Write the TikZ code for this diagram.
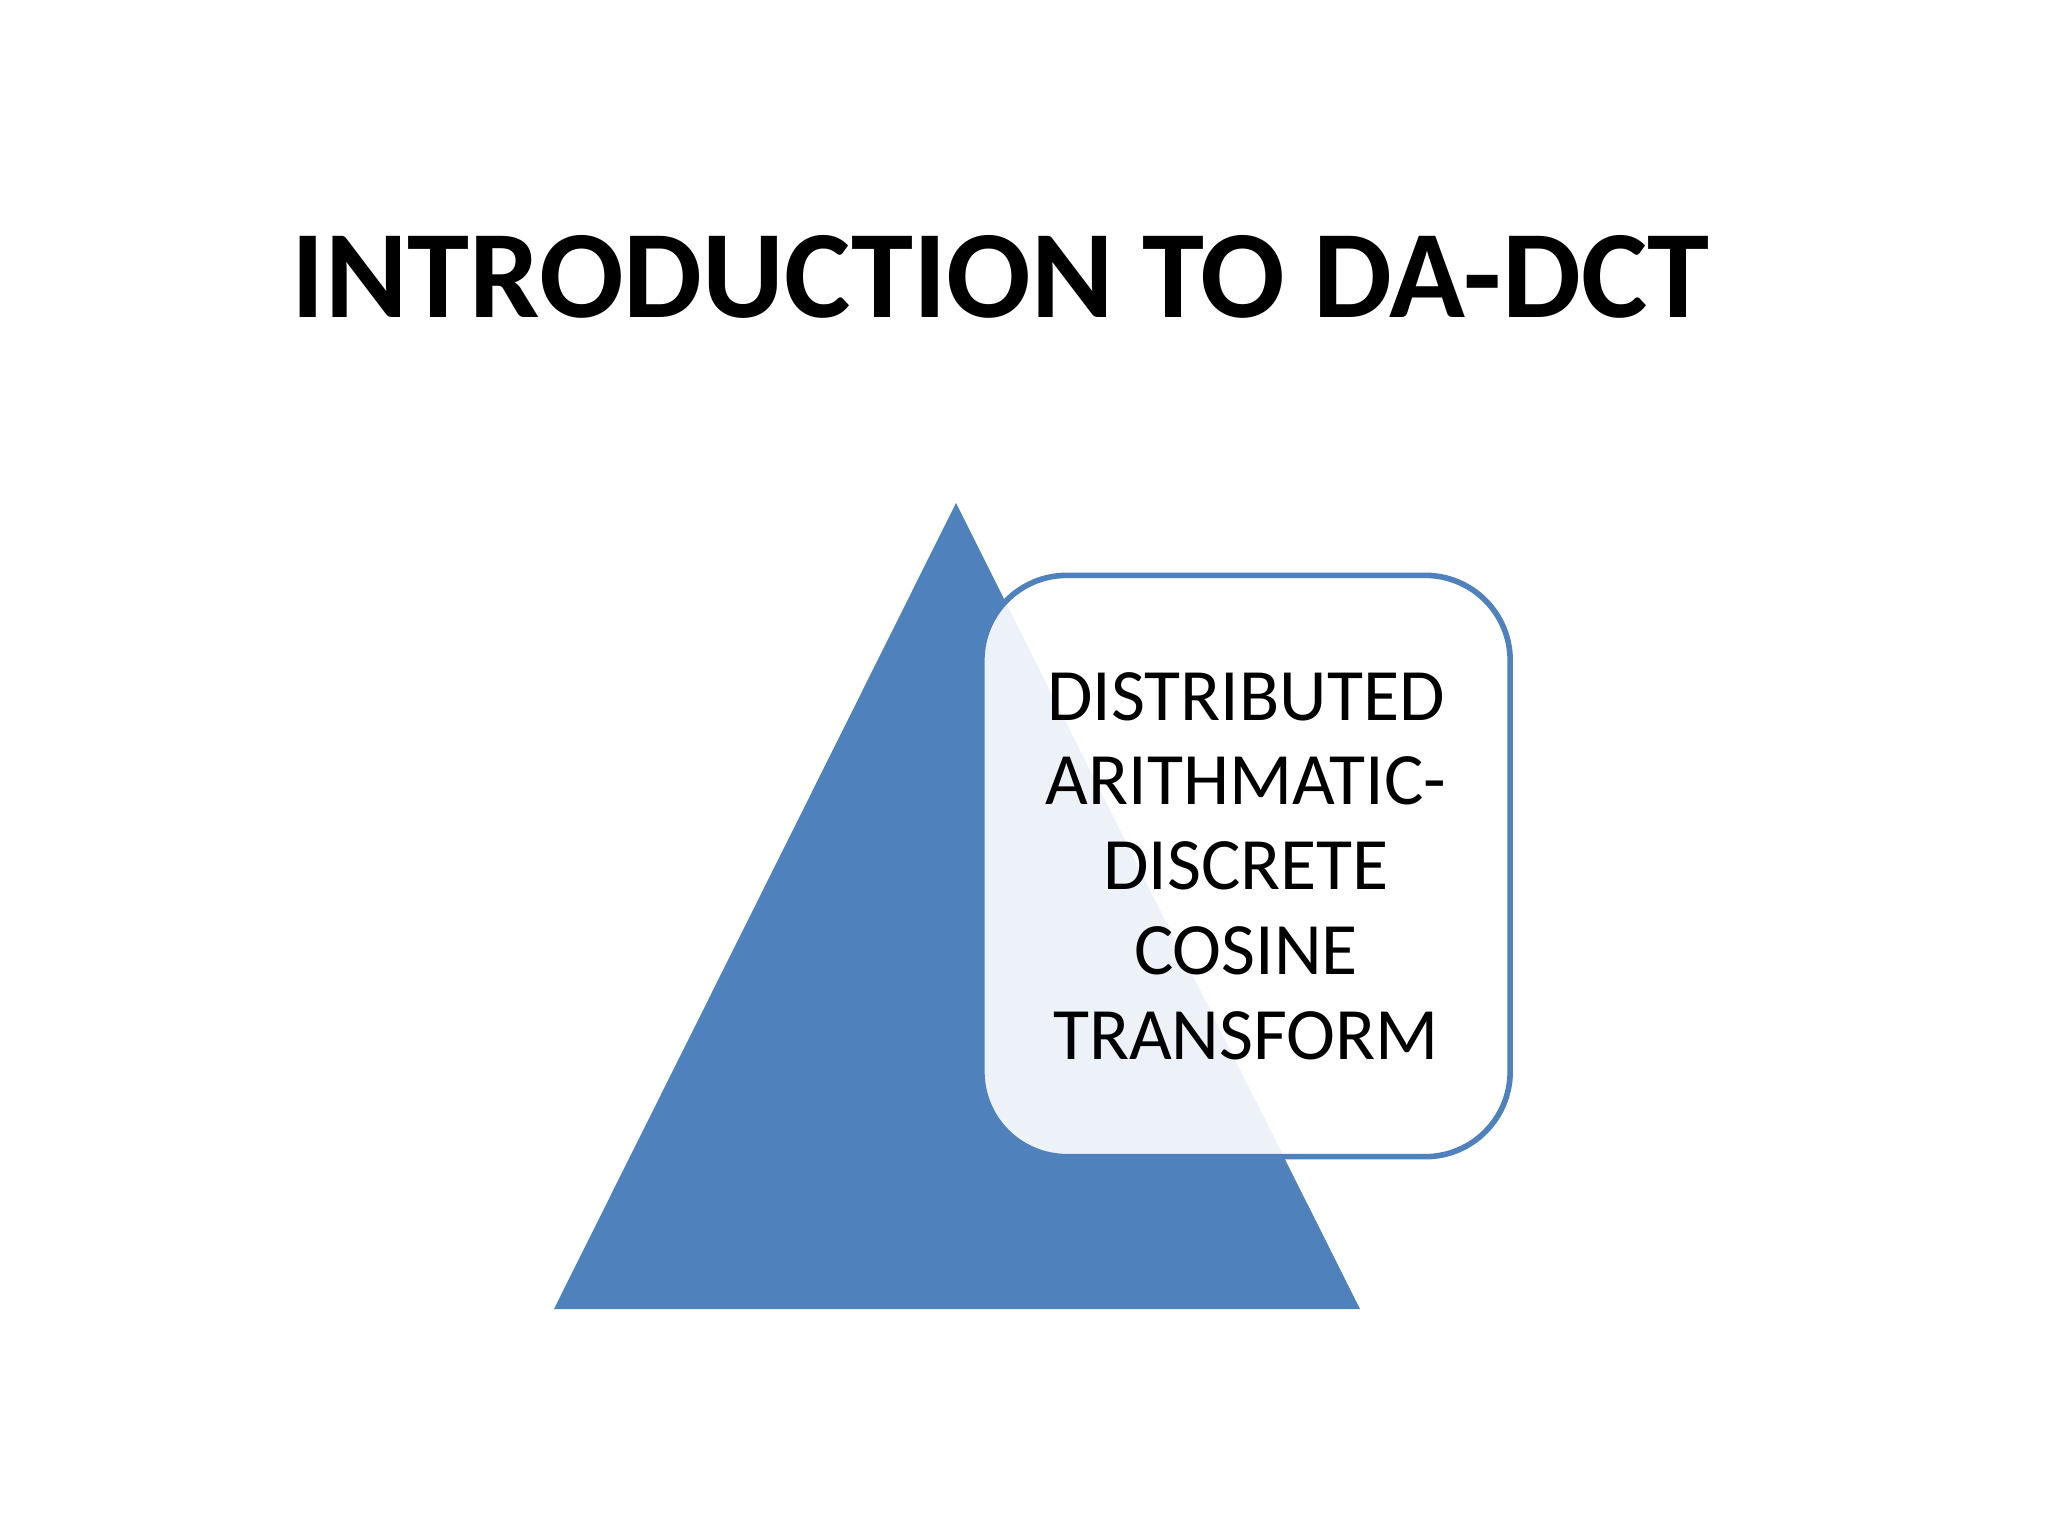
\documentclass[tikz,border=0pt]{standalone}
\usepackage{fontspec}
\setmainfont{Carlito}
\usetikzlibrary{positioning}
\definecolor{slideblue}{HTML}{4F81BD}
\tikzset{%
    title/.style={%
        font=\fontsize{35.6}{42}\selectfont\bfseries,%
        anchor=base%
    },%
    infobox/.style={%
        draw=slideblue,%
        line width=1.6pt,%
        fill=white,%
        fill opacity=0.9,%
        text opacity=1,%
        rounded corners=0.85cm,%
        minimum width=5.28cm,%
        minimum height=5.81cm,%
        align=center,%
        inner sep=0pt,%
        font=\fontsize{21}{24.1}\selectfont%
    },%
    pyramid/.style={%
        fill=slideblue,%
        draw=none%
    }%
}

\begin{document}
\begin{tikzpicture}[x=0.01cm,y=-0.01cm]
    \useasboundingbox[fill=white] (0,0) rectangle (2048,1536);
    \node[title] (heading) at (1001,317) {INTRODUCTION TO DA-DCT};
    \coordinate (apex) at (956,503);
    \coordinate (baseleft) at (554,1309);
    \coordinate (baseright) at (1360,1309);
    \fill[pyramid] (apex) -- (baseright) -- (baseleft) -- cycle;
    \node[infobox] (dadct) at (1246,866) {%
        DISTRIBUTED\\
        ARITHMATIC-\\
        DISCRETE\\
        COSINE\\
        TRANSFORM%
    };
\end{tikzpicture}
\end{document}
